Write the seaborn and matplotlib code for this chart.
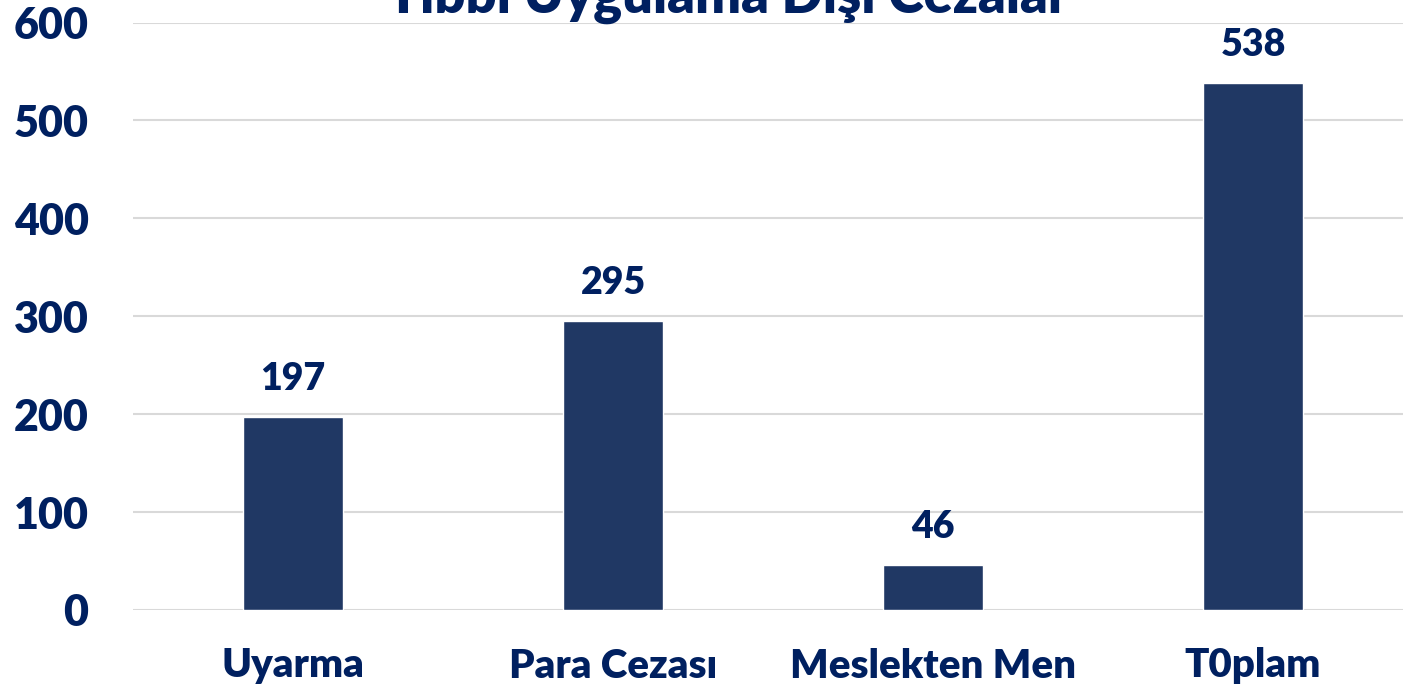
import matplotlib
matplotlib.use("Agg")
import matplotlib.pyplot as plt
import seaborn as sns
import pandas as pd

# =========================
# DATA
# =========================
categories = ["Uyarma", "Para Cezası", "Meslekten Men", "T0plam"]
values = [197, 295, 46, 538]
y_ticks = [0, 100, 200, 300, 400, 500, 600]
title = "Tıbbi Uygulama Dışı Cezalar"

bar_color = "#203864"
text_color = "#002060"

df = pd.DataFrame({"kategori": categories, "deger": values})

# =========================
# PLOT
# =========================
sns.set_style("white")
plt.rcParams["font.family"] = ["Lato", "DejaVu Sans"]

fig = plt.figure(figsize=(14.03, 6.91), dpi=100)
ax = fig.add_axes([133 / 1403, 1 - 610 / 691, 1280 / 1403, 587.5 / 691])

sns.barplot(data=df, x="kategori", y="deger", color=bar_color,
            width=0.3125, saturation=1, ax=ax, zorder=3)

ax.set_xlim(-0.5, 3.5)
ax.set_ylim(0, 600)
ax.set_yticks(y_ticks)
ax.set_yticklabels([str(t) for t in y_ticks])
ax.yaxis.grid(True, color="#d9d9d9", linewidth=1.5, zorder=0)
ax.set_axisbelow(True)
sns.despine(ax=ax, left=True, bottom=True, top=True, right=True)

ax.tick_params(axis="y", length=0, pad=32, labelsize=31, labelcolor=text_color)
ax.tick_params(axis="x", length=0, pad=27, labelsize=29, labelcolor=text_color)
for lab in ax.get_xticklabels() + ax.get_yticklabels():
    lab.set_fontweight("heavy")

ax.set_xlabel("")
ax.set_ylabel("")

# value labels
for i, v in enumerate(values):
    ax.annotate(str(v), (i, v), xytext=(0, 15), textcoords="offset points",
                ha="center", va="bottom", fontsize=27, fontweight="heavy",
                color=text_color)

# title (partly outside the top of the figure, as in the original)
fig.text(728 / 1403, 1 - 13 / 691, title, ha="center", va="baseline",
         fontsize=39, fontweight="heavy", color=text_color)

fig.savefig("out.png", dpi=100)
